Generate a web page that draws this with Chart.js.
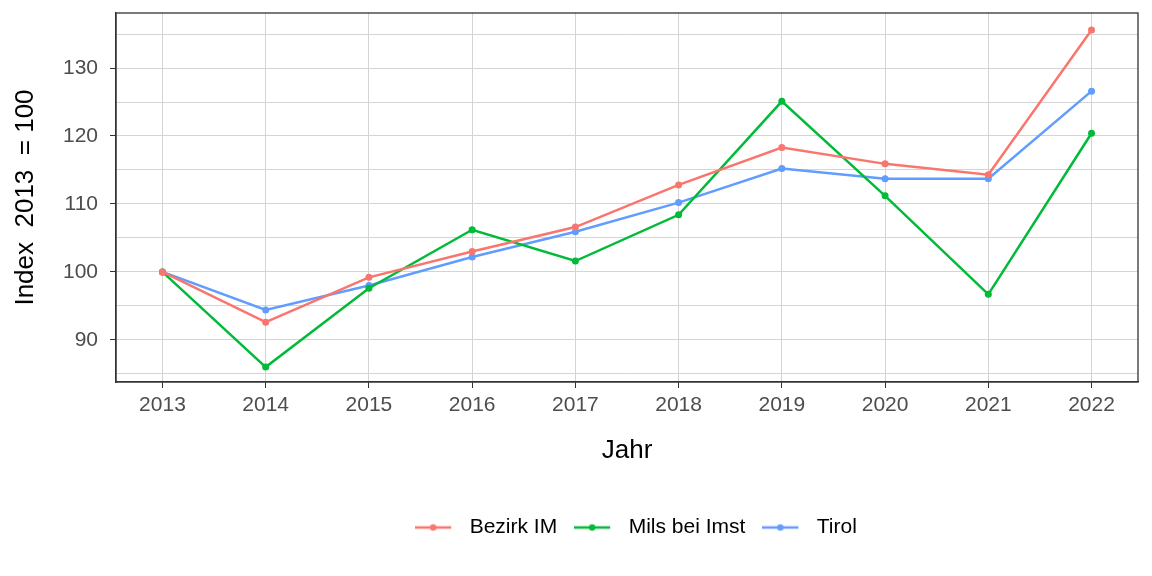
<!DOCTYPE html>
<html>
<head>
<meta charset="utf-8">
<script src="https://cdn.jsdelivr.net/npm/chart.js@4.4.1/dist/chart.umd.min.js"></script>
<style>
  html, body { margin: 0; padding: 0; background: #fff; }
  #wrap { width: 1152px; height: 576px; }
</style>
</head>
<body>
<div id="wrap"><canvas id="chart" width="1152" height="576"></canvas></div>
<script>
// data
const years = [2013, 2014, 2015, 2016, 2017, 2018, 2019, 2020, 2021, 2022];
const bezirkIM = [100, 92.6, 99.2, 103.0, 106.6, 112.8, 118.3, 115.9, 114.3, 135.6];
const milsBeiImst = [100, 86.0, 97.6, 106.2, 101.6, 108.4, 125.1, 111.2, 96.7, 120.4];
const tirol = [100, 94.4, 98.0, 102.2, 105.9, 110.2, 115.2, 113.7, 113.7, 126.6];
const yTicks = [85, 90, 95, 100, 105, 110, 115, 120, 125, 130, 135];

const colors = ['#F8766D', '#00BA38', '#619CFF'];
const FONT = 'Arial, "Liberation Sans", sans-serif';

// line+dot key like ggplot, with some empty room on the right before the text
function legendIcon(color) {
  const c = document.createElement('canvas');
  c.width = 44; c.height = 12;
  const g = c.getContext('2d');
  g.strokeStyle = color;
  g.lineWidth = 2.5;
  g.beginPath(); g.moveTo(0, 6); g.lineTo(36, 6); g.stroke();
  g.fillStyle = color;
  g.beginPath(); g.arc(18, 6, 3.2, 0, Math.PI * 2); g.fill();
  return c;
}

const mkSet = (label, vals, color) => ({
  label: label,
  data: years.map((y, i) => ({ x: y, y: vals[i] })),
  borderColor: color,
  backgroundColor: color,
  borderWidth: 2.5,
  pointRadius: 3.5,
  pointStyle: 'circle',
  pointBorderWidth: 0,
  tension: 0,
  icon: legendIcon(color)
});

const panelBorder = {
  id: 'panelBorder',
  afterLayout(chart) {
    // ggplot centres the legend a bit right of the plot centre
    if (chart.legend) { chart.legend.left += 9; chart.legend.right += 9; }
  },
  afterDatasetsDraw(chart) {
    const a = chart.chartArea;
    const ctx = chart.ctx;
    ctx.save();
    ctx.strokeStyle = '#333';
    ctx.lineWidth = 1.3;
    ctx.strokeRect(a.left, a.top, a.right - a.left, a.bottom - a.top);
    ctx.restore();
  }
};

// no extra room for half tick labels at the axis ends
const noPad = s => { s.paddingTop = 0; s.paddingBottom = 0; s.paddingLeft = 0; s.paddingRight = 0; };

new Chart(document.getElementById('chart'), {
  type: 'line',
  data: {
    datasets: [
      mkSet('Bezirk IM', bezirkIM, colors[0]),
      mkSet('Mils bei Imst', milsBeiImst, colors[1]),
      mkSet('Tirol', tirol, colors[2])
    ]
  },
  options: {
    responsive: false,
    animation: false,
    layout: { padding: { top: 13, right: 14, left: 8, bottom: 28 } },
    scales: {
      x: {
        type: 'linear',
        min: 2012.55,
        max: 2022.45,
        afterBuildTicks: s => { s.ticks = years.map(v => ({ value: v })); },
        afterFit: s => { s.height = 118; noPad(s); },
        grid: { color: '#d4d4d4', lineWidth: 1, tickLength: 6, tickColor: '#333' },
        border: { display: true, color: '#333', width: 1.3 },
        ticks: { color: '#4d4d4d', font: { family: FONT, size: 21 }, padding: 5,
          maxRotation: 0, callback: v => String(v) },
        title: { display: true, text: 'Jahr', color: '#000',
          font: { family: FONT, size: 26 }, padding: { top: 0, bottom: 34 } }
      },
      y: {
        type: 'linear',
        min: 83.8,
        max: 138.1,
        afterBuildTicks: s => { s.ticks = yTicks.map(v => ({ value: v })); },
        afterFit: s => { s.width = 108; noPad(s); },
        grid: { color: '#d4d4d4', lineWidth: 1, tickLength: 6,
          tickColor: c => (c.tick && c.tick.value % 10 === 0) ? '#333' : 'rgba(0,0,0,0)' },
        border: { display: true, color: '#333', width: 1.3 },
        ticks: { color: '#4d4d4d', font: { family: FONT, size: 21 }, padding: 12,
          callback: v => (v % 10 === 0 ? String(v) : '') },
        title: { display: true, text: 'Index  2013  = 100', color: '#000',
          font: { family: FONT, size: 26 }, padding: { top: 2, bottom: 0 } }
      }
    },
    plugins: {
      legend: {
        position: 'bottom',
        fullSize: false,
        labels: {
          color: '#000',
          font: { family: FONT, size: 21 },
          usePointStyle: true,
          pointStyleWidth: 44,
          padding: 17,
          generateLabels: chart => chart.data.datasets.map((d, i) => ({
            text: d.label,
            pointStyle: d.icon,
            fillStyle: d.borderColor,
            strokeStyle: d.borderColor,
            lineWidth: 0,
            datasetIndex: i
          }))
        }
      },
      tooltip: { enabled: false }
    }
  },
  plugins: [panelBorder]
});
</script>
</body>
</html>
